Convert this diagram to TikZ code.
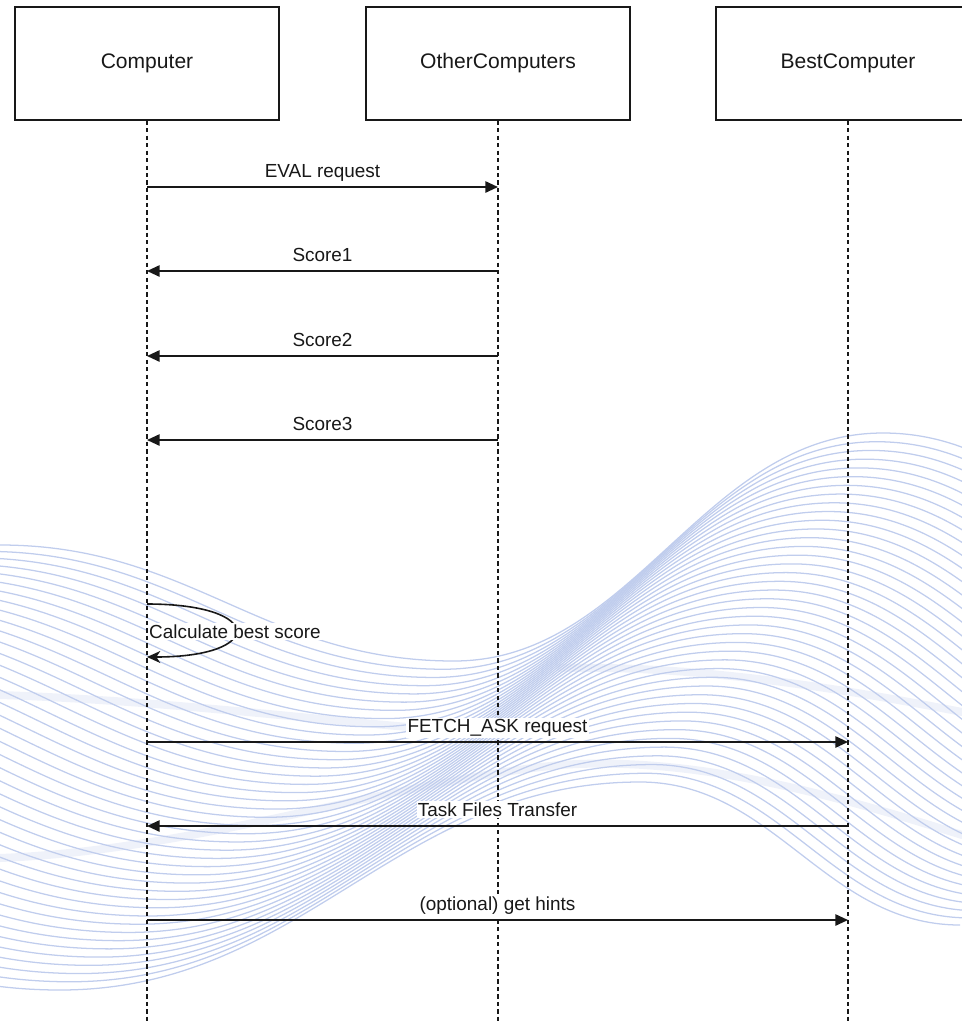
\documentclass[tikz,border=0pt]{standalone}
\usepackage{fontspec}
\setmainfont{Liberation Sans}
\usetikzlibrary{arrows.meta}
\definecolor{wavecol}{RGB}{192,205,237}
\definecolor{bandcol}{RGB}{239,242,250}
\definecolor{ink}{RGB}{24,24,24}

\begin{document}
\begin{tikzpicture}[x=0.75pt,y=-0.75pt,
  actor/.style={draw=ink, line width=1.1pt, minimum width=198pt, minimum height=84.75pt,
    inner sep=0pt, font=\fontsize{15.8}{18}\selectfont, text=ink},
  lifeline/.style={draw=ink, line width=0.8pt, dash pattern=on 3.2pt off 2.4pt},
  msg/.style={draw=ink, line width=1.3pt, -{Triangle[length=9.5pt,width=8.5pt]}},
  selfmsg/.style={draw=ink, line width=1.2pt, -{Stealth[length=10pt,width=9pt,inset=3pt]}},
  lbl/.style={font=\fontsize{14.2}{17}\selectfont, text=ink, inner sep=1pt, fill=white, anchor=base},
  wave/.style={draw=wavecol, line width=0.95pt},
  band/.style={draw=bandcol, line width=6pt, line cap=round},
]
\useasboundingbox (0,0) rectangle (962,1022);

% decorative wave field behind the sequence
\begin{scope}
  \clip (0,0) rectangle (962,1022);
  \draw[band] (0,695) .. controls (150,700) and (300,718) .. (420,728);
  \draw[band] (560,668) .. controls (700,665) and (850,690) .. (962,712);
  \draw[band] (0,858) .. controls (200,850) and (400,780) .. (560,765)
              .. controls (700,755) and (850,800) .. (962,835);
  \foreach \k in {0,...,40}{
    \pgfmathsetmacro\wt{\k/40}
    \pgfmathsetmacro\Ax{0-560*\wt}    \pgfmathsetmacro\Ay{545+255*\wt}
    \pgfmathsetmacro\Bx{454-394*\wt}  \pgfmathsetmacro\By{661+329*\wt}
    \pgfmathsetmacro\Cx{883-243*\wt}  \pgfmathsetmacro\Cy{433+349*\wt}
    \pgfmathsetmacro\Dx{1313-353*\wt} \pgfmathsetmacro\Dy{640+285*\wt}
    \pgfmathsetmacro\hAB{0.42*(\Bx-\Ax)}
    \pgfmathsetmacro\hBC{0.42*(\Cx-\Bx)}
    \pgfmathsetmacro\hCD{0.42*(\Dx-\Cx)}
    \draw[wave] (\Ax,\Ay) .. controls (\Ax+\hAB,\Ay) and (\Bx-\hAB,\By) .. (\Bx,\By)
      .. controls (\Bx+\hBC,\By) and (\Cx-\hBC,\Cy) .. (\Cx,\Cy)
      .. controls (\Cx+\hCD,\Cy) and (\Dx-\hCD,\Dy) .. (\Dx,\Dy);
  }
\end{scope}

% participants
\node[actor] (comp)  at (147,63.5) {Computer};
\node[actor] (other) at (498,63.5) {OtherComputers};
\node[actor] (best)  at (848,63.5) {BestComputer};

% lifeline ends
\coordinate (compEnd)  at (147,1022);
\coordinate (otherEnd) at (498,1022);
\coordinate (bestEnd)  at (848,1022);
\draw[lifeline] (comp.south)  -- (compEnd);
\draw[lifeline] (other.south) -- (otherEnd);
\draw[lifeline] (best.south)  -- (bestEnd);

% message anchor points on the lifelines
\coordinate (evalA) at (147,187); \coordinate (evalB) at (498,187);
\coordinate (s1A) at (147,271);   \coordinate (s1B) at (498,271);
\coordinate (s2A) at (147,356);   \coordinate (s2B) at (498,356);
\coordinate (s3A) at (147,440);   \coordinate (s3B) at (498,440);
\coordinate (loopA) at (147,604); \coordinate (loopB) at (147,657);
\coordinate (fetchA) at (147,742); \coordinate (fetchB) at (848,742);
\coordinate (taskA) at (147,826);  \coordinate (taskB) at (848,826);
\coordinate (hintA) at (147,920);  \coordinate (hintB) at (848,920);

% messages
\draw[msg] (evalA) -- (evalB);
\draw[msg] (s1B) -- (s1A);
\draw[msg] (s2B) -- (s2A);
\draw[msg] (s3B) -- (s3A);
\draw[selfmsg] (loopA) .. controls (265,604) and (265,657) .. (loopB);
\draw[msg] (fetchA) -- (fetchB);
\draw[msg] (taskB) -- (taskA);
\draw[msg] (hintA) -- (hintB);

% message labels
\node[lbl] (evalL)  at (322.5,177.5) {EVAL request};
\node[lbl] (s1L)    at (322.5,261.5) {Score1};
\node[lbl] (s2L)    at (322.5,346.5) {Score2};
\node[lbl] (s3L)    at (322.5,430.5) {Score3};
\node[lbl] (loopL)  at (235,638.5) {Calculate best score};
\node[lbl] (fetchL) at (497.5,732.5) {FETCH\_ASK request};
\node[lbl] (taskL)  at (497.5,816.5) {Task Files Transfer};
\node[lbl] (hintL)  at (497.5,910.5) {(optional) get hints};
\end{tikzpicture}
\end{document}
